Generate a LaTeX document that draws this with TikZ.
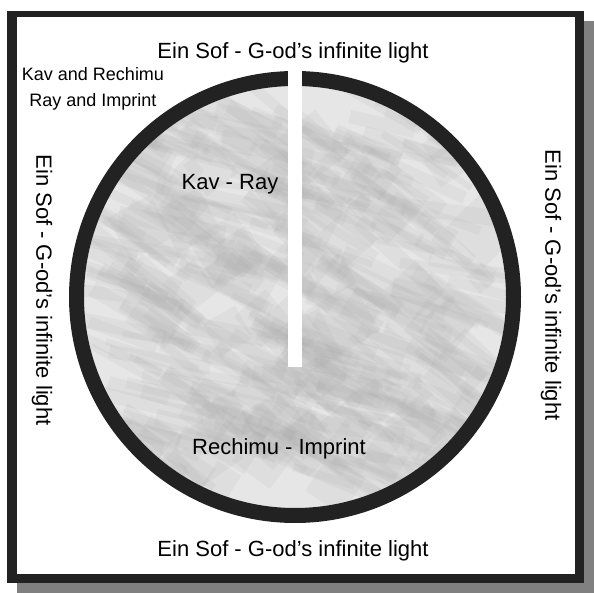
\documentclass[tikz,border=0pt]{standalone}
\usepackage{fontspec}
\setmainfont{Liberation Sans}
\definecolor{inkdark}{HTML}{222222}
\definecolor{shadowgray}{HTML}{808080}
\definecolor{discgray}{HTML}{E6E6E6}
\usetikzlibrary{positioning,calc}

\begin{document}
\begin{tikzpicture}[
    x=1pt, y=-1pt,
    lbl/.style={inner sep=0pt, font=\fontsize{22}{26}\selectfont},
    smalllbl/.style={inner sep=0pt, font=\fontsize{18}{21}\selectfont},
    streak/.style={fill=gray!70, opacity=0.11},
    ring/.style={draw=inkdark, line width=15pt}
  ]
    \useasboundingbox (0,0) rectangle (594,593);
    % frame with its shadow
    \fill[shadowgray] (17,21) rectangle (594,593);
    \fill[inkdark] (7,11) rectangle (584,583);
    \fill[white] (17,17) rectangle (575,574);

    \coordinate (C) at (295,297);
    % the disc and its texture
    \begin{scope}
      \clip (C) circle (211);
      \fill[discgray] (C) circle (211);
      \pgfmathsetseed{4242}
      \foreach \i in {1,...,300}{
        \pgfmathsetmacro\px{295+190*rand}
        \pgfmathsetmacro\py{297+190*rand}
        \pgfmathsetmacro\ang{-25+18*rand}
        \pgfmathsetmacro\len{30+40*rnd}
        \pgfmathsetmacro\wid{3+6*rnd}
        \fill[streak, rotate around={\ang:(\px,\py)}]
          (\px-\len,\py-\wid) rectangle (\px+\len,\py+\wid);
      }
      \foreach \i in {1,...,90}{
        \pgfmathsetmacro\px{295+200*rand}
        \pgfmathsetmacro\py{297+200*rand}
        \pgfmathsetmacro\sz{10+18*rnd}
        \fill[streak, rotate around={45+20*rand:(\px,\py)}]
          (\px-\sz,\py-\sz) rectangle (\px+\sz,\py+\sz);
      }
    \end{scope}
    \draw[ring] (C) circle (218.5);
    \fill[white] (288,60) rectangle (302,367);

    % labels
    \node[lbl] (top) at (293,53) {Ein Sof - G-od’s infinite light};
    \node[lbl] (bottom) at (293,551) {Ein Sof - G-od’s infinite light};
    \node[lbl, rotate=-90] (left) at (42,290) {Ein Sof - G-od’s infinite light};
    \node[lbl, rotate=-90] (right) at (551,285) {Ein Sof - G-od’s infinite light};
    \node[smalllbl] (kavrech) at (93,74) {Kav and Rechimu};
    \node[smalllbl, below=12pt of kavrech] (rayimp) {Ray and Imprint};
    \node[lbl] (kav) at (230,184) {Kav - Ray};
    \node[lbl] (rechimu) at (279,449) {Rechimu - Imprint};
  \end{tikzpicture}
\end{document}
